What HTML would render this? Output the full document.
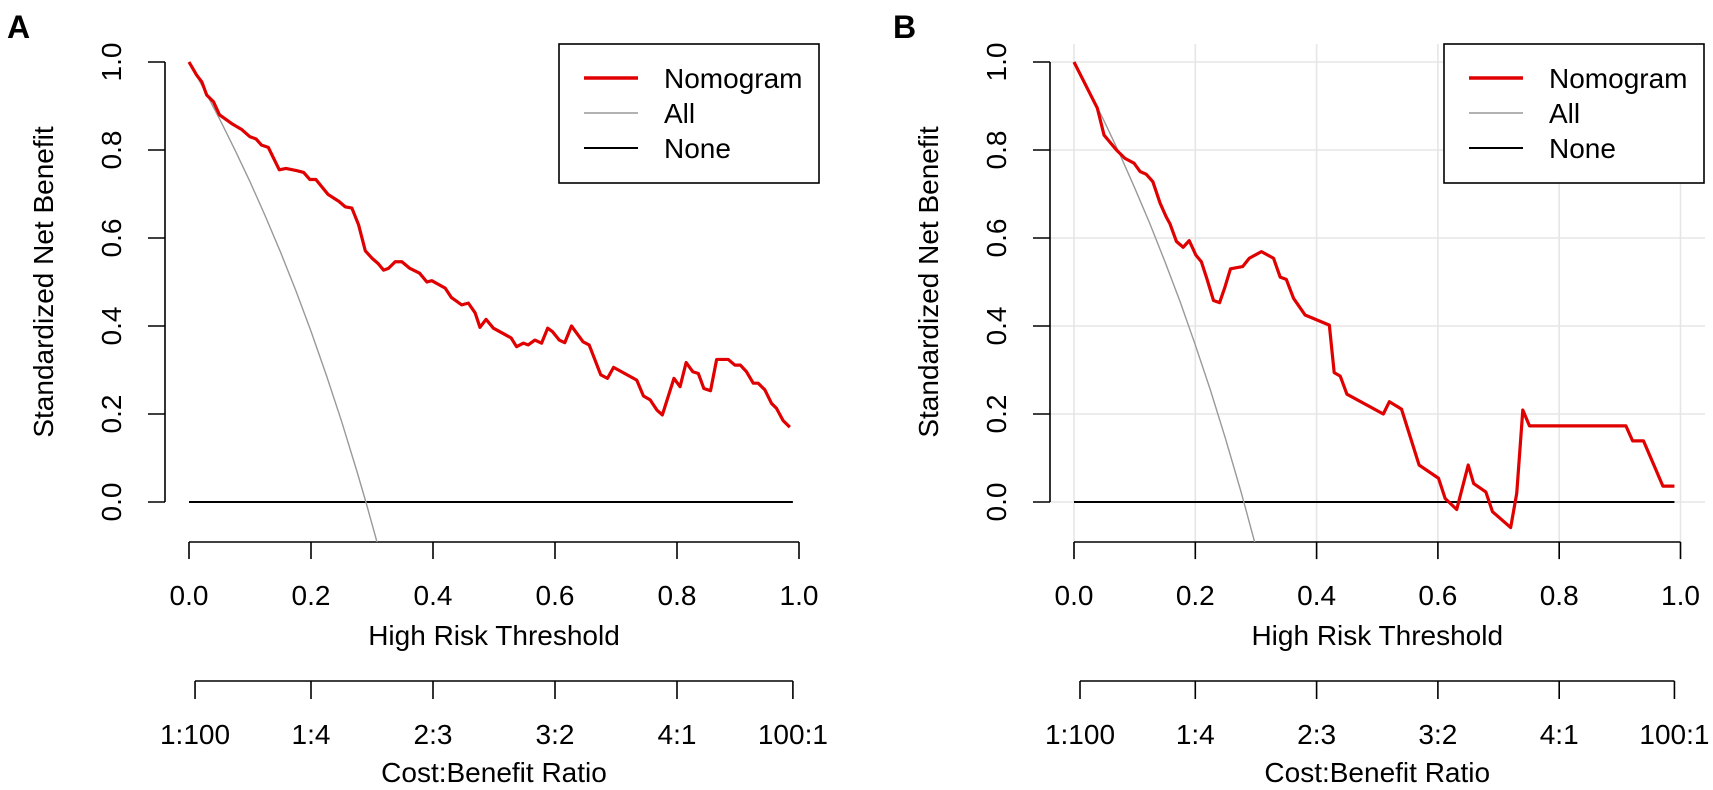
<!DOCTYPE html>
<html><head><meta charset="utf-8"><style>
html,body{margin:0;padding:0;background:#fff;}
svg{display:block;font-family:"Liberation Sans",Arial,sans-serif;}
</style></head>
<body>
<svg id="chart" width="1713" height="790" viewBox="0 0 1713 790">
<defs>
<clipPath id="clipA"><rect x="150" y="44" width="680" height="498"/></clipPath>
<clipPath id="clipB"><rect x="1036" y="44" width="680" height="498"/></clipPath>
</defs>
</svg>
<script>
// ---- Panel A data ----
const aNomT = [0,.0126,.021,.029,.040,.050,.070,.086,.1,.11,.119,.13,.148,.159,.177,.188,.198,.208,.228,.246,.256,.267,.278,.289,.30,.31,.319,.327,.338,.349,.362,.378,.39,.398,.42,.43,.447,.458,.469,.477,.487,.499,.528,.537,.548,.556,.567,.578,.588,.596,.607,.616,.627,.646,.656,.675,.686,.696,.734,.745,.756,.767,.776,.795,.805,.815,.826,.835,.844,.855,.865,.884,.895,.904,.914,.925,.933,.944,.955,.963,.974,.985];
const aNomV = [1.0,.970,.955,.925,.91,.88,.86,.847,.83,.825,.811,.806,.755,.758,.753,.749,.733,.733,.699,.683,.671,.668,.63,.571,.554,.542,.527,.531,.546,.546,.531,.52,.5,.503,.486,.465,.448,.452,.43,.397,.415,.395,.373,.353,.361,.357,.368,.361,.395,.387,.368,.362,.4,.364,.357,.289,.281,.306,.277,.241,.232,.209,.198,.281,.262,.317,.296,.292,.258,.253,.324,.324,.311,.311,.296,.27,.27,.255,.224,.213,.185,.17];
const aAllT = [0,.025,.05,.075,.1,.125,.15,.175,.2,.225,.25,.275,.29,.31];
const aAllV = [1,.937,.871,.801,.728,.650,.568,.481,.388,.289,.184,.071,0,-.1];
// ---- Panel B data ----
const bNomT = [0,.0385,.0495,.070,.084,.099,.109,.119,.13,.142,.152,.158,.169,.18,.19,.201,.21,.219,.23,.24,.249,.258,.278,.289,.309,.329,.34,.35,.362,.381,.421,.429,.439,.45,.51,.52,.54,.569,.601,.612,.631,.65,.659,.679,.69,.72,.73,.74,.751,.91,.921,.939,.971,.99];
const bNomV = [1.0,.895,.834,.8,.781,.77,.751,.745,.728,.679,.648,.633,.592,.579,.594,.561,.546,.508,.458,.453,.489,.53,.535,.554,.569,.554,.511,.506,.463,.425,.402,.294,.286,.245,.2,.228,.211,.084,.054,.008,-.017,.084,.042,.023,-.022,-.058,.02,.209,.173,.173,.139,.139,.036,.036];
const bAllT = [0,.025,.05,.075,.1,.125,.15,.175,.2,.225,.25,.275,.28,.3];
const bAllV = [1,.934,.865,.792,.714,.633,.546,.455,.357,.254,.143,.025,0,-.102];
// ---- Shared axis data ----
const xTicks = [0,.2,.4,.6,.8,1.0];
const xTickLabels = ["0.0","0.2","0.4","0.6","0.8","1.0"];
const yTicks = [0,.2,.4,.6,.8,1.0];
const yTickLabels = ["0.0","0.2","0.4","0.6","0.8","1.0"];
const cbTicks = [.0099,.2,.4,.6,.8,.99];
const cbLabels = ["1:100","1:4","2:3","3:2","4:1","100:1"];
const legendNames = ["Nomogram","All","None"];

const NS = "http://www.w3.org/2000/svg";
const svg = document.getElementById('chart');
function el(tag, attrs, parent, text){
  const e = document.createElementNS(NS, tag);
  for (const k in attrs) e.setAttribute(k, attrs[k]);
  if (text !== undefined) e.textContent = text;
  (parent||svg).appendChild(e);
  return e;
}

function panel(cfg){
  const g = el('g', {});
  
  
  const X = t => cfg.x0 + t*(cfg.x1-cfg.x0);
  const Y = v => 502 - v*440;
  const axLeft = cfg.axLeft;

  if (cfg.grid){
    xTicks.forEach(t=>{
      const l = el('line',{x1:X(t),x2:X(t),y1:44,y2:560,stroke:'#e6e6e6','stroke-width':1.6},g);
      
      
    });
    yTicks.forEach(v=>{
      const l = el('line',{x1:axLeft,x2:cfg.right,y1:Y(v),y2:Y(v),stroke:'#e6e6e6','stroke-width':1.6},g);
      
      
    });
  }

  const letter = el('text',{x:cfg.letterX,y:38,'font-size':32,'font-weight':'bold'},g,cfg.letter);
  
  

  const ya = el('line',{x1:axLeft,x2:axLeft,y1:Y(1),y2:Y(0),stroke:'#000','stroke-width':1.6},g);
  
  
  yTicks.forEach((v,i)=>{
    const tk = el('line',{x1:axLeft-17,x2:axLeft,y1:Y(v),y2:Y(v),stroke:'#000','stroke-width':1.6},g);
    
    
    const cx = axLeft-54;
    const lb = el('text',{x:cx,y:Y(v),dy:'0.35em','text-anchor':'middle','font-size':28,transform:`rotate(-90 ${cx} ${Y(v)})`},g,yTickLabels[i]);
    
    
  });
  const yt = el('text',{x:axLeft-122,y:282,dy:'0.35em','text-anchor':'middle','font-size':28,transform:`rotate(-90 ${axLeft-122} 282)`},g,'Standardized Net Benefit');
  
  

  const xa = el('line',{x1:X(0),x2:X(1),y1:542,y2:542,stroke:'#000','stroke-width':1.6},g);
  
  
  xTicks.forEach((t,i)=>{
    const tk = el('line',{x1:X(t),x2:X(t),y1:542,y2:559,stroke:'#000','stroke-width':1.6},g);
    
    
    const lb = el('text',{x:X(t),y:605,'text-anchor':'middle','font-size':28},g,xTickLabels[i]);
    
    
  });
  const xt = el('text',{x:(X(0)+X(1))/2,y:645,'text-anchor':'middle','font-size':28},g,'High Risk Threshold');
  
  

  const ca = el('line',{x1:X(cbTicks[0]),x2:X(cbTicks[cbTicks.length-1]),y1:681,y2:681,stroke:'#000','stroke-width':1.6},g);
  
  
  cbTicks.forEach((t,i)=>{
    const tk = el('line',{x1:X(t),x2:X(t),y1:681,y2:699,stroke:'#000','stroke-width':1.6},g);
    
    
    const lb = el('text',{x:X(t),y:744,'text-anchor':'middle','font-size':28},g,cbLabels[i]);
    
    
  });
  const ct = el('text',{x:(X(0)+X(1))/2,y:782,'text-anchor':'middle','font-size':28},g,'Cost:Benefit Ratio');
  
  

  const cg = el('g',{'clip-path':`url(#${cfg.clip})`},g);
  const none = el('line',{x1:X(0),x2:X(.99),y1:Y(0),y2:Y(0),stroke:'#000','stroke-width':2},cg);
  
  
  const allP = el('polyline',{points:cfg.allT.map((t,i)=>X(t)+','+Y(cfg.allV[i])).join(' '),fill:'none',stroke:'#999','stroke-width':1.4},cg);
  
  
  const nom = el('polyline',{points:cfg.nomT.map((t,i)=>X(t)+','+Y(cfg.nomV[i])).join(' '),fill:'none',stroke:'#e00000','stroke-width':3.2,'stroke-linejoin':'round'},cg);
  
  

  const lg = el('g',{},g);
  
  
  el('rect',{x:cfg.legX,y:44,width:260,height:139,fill:'#fff',stroke:'#000','stroke-width':1.6},lg);
  const styles = [['#e00000',3.4],['#999',1.4],['#000',2]];
  legendNames.forEach((n,i)=>{
    const ly = 78 + i*35;
    const ent = el('g',{},lg);
    
    
    el('line',{x1:cfg.legX+25,x2:cfg.legX+79,y1:ly,y2:ly,stroke:styles[i][0],'stroke-width':styles[i][1]},ent);
    el('text',{x:cfg.legX+105,y:ly+10,'font-size':28},ent,n);
  });
}

panel({name:'panel-a',letter:'A',letterX:7,x0:189,x1:799,axLeft:165,right:820,grid:false,clip:'clipA',legX:559,
  nomT:aNomT,nomV:aNomV,allT:aAllT,allV:aAllV});
panel({name:'panel-b',letter:'B',letterX:893,x0:1074,x1:1680.5,axLeft:1050,right:1705,grid:true,clip:'clipB',legX:1444,
  nomT:bNomT,nomV:bNomV,allT:bAllT,allV:bAllV});
</script>
</body></html>
